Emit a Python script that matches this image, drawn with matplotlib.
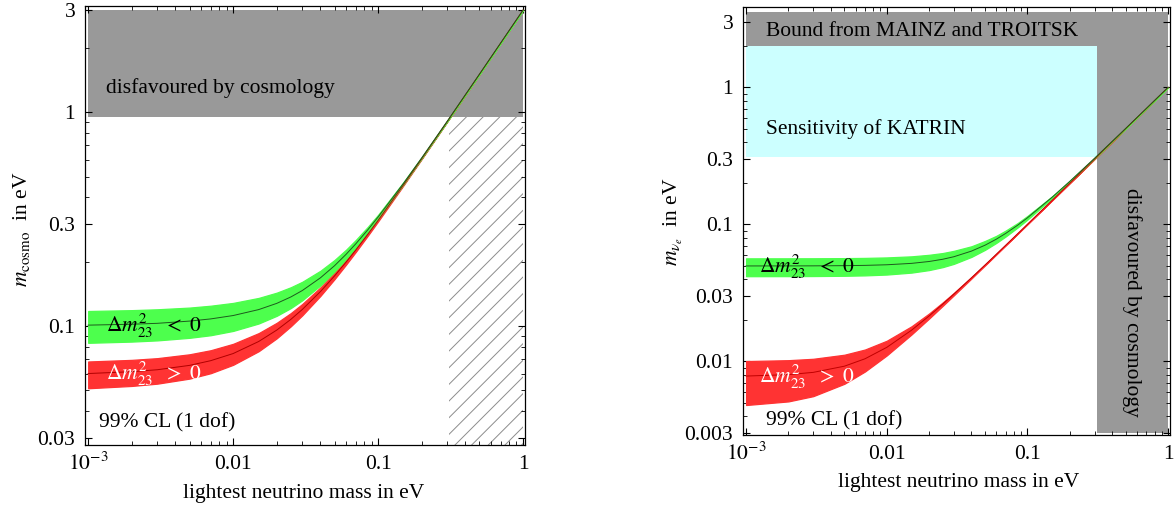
import numpy as np
import matplotlib
matplotlib.use("Agg")
import matplotlib.pyplot as plt
from matplotlib.ticker import FixedLocator, FixedFormatter, LogLocator, NullFormatter

plt.rcParams['font.family'] = ['Liberation Serif', 'DejaVu Serif']
plt.rcParams['mathtext.fontset'] = 'stix'
plt.rcParams['font.size'] = 15.5
plt.rcParams['hatch.linewidth'] = 0.7

# lightest neutrino mass in eV (x values shared by all bands)
m_light = [0.001, 0.002, 0.003, 0.005, 0.007, 0.01, 0.015, 0.02, 0.025, 0.03, 0.04,
           0.05, 0.06, 0.07, 0.085, 0.1, 0.15, 0.2, 0.3, 0.5, 0.7, 1.0]

# left panel: m_cosmo, inverted hierarchy (green)
cosmo_inv_mid = [0.101, 0.102, 0.103, 0.1055, 0.108, 0.112, 0.1194, 0.1277, 0.1368, 0.1466, 0.1681,
                 0.1914, 0.2162, 0.242, 0.2822, 0.3236, 0.466, 0.612, 0.908, 1.505, 2.104, 3.0025]
cosmo_inv_hi = [0.1176, 0.1187, 0.1198, 0.122, 0.1245, 0.1283, 0.1354, 0.1433, 0.1519, 0.1611, 0.1814,
                0.2036, 0.2273, 0.2523, 0.2912, 0.3314, 0.472, 0.6166, 0.911, 1.507, 2.105, 3.003]
cosmo_inv_lo = [0.0835, 0.0846, 0.0857, 0.0881, 0.0906, 0.0949, 0.1028, 0.1117, 0.1214, 0.132, 0.1549,
                0.1796, 0.2056, 0.2324, 0.2739, 0.3164, 0.461, 0.6084, 0.9056, 1.503, 2.102, 3.002]
# left panel: m_cosmo, normal hierarchy (red)
cosmo_nor_mid = [0.06, 0.0612, 0.0625, 0.0655, 0.0689, 0.0744, 0.0847, 0.0958, 0.1075, 0.1196, 0.145,
                 0.1715, 0.1988, 0.2266, 0.2691, 0.3122, 0.4584, 0.6064, 0.9043, 1.5027, 2.1019, 3.0013]
cosmo_nor_hi = [0.0683, 0.0695, 0.0708, 0.0738, 0.0771, 0.0826, 0.0927, 0.1036, 0.115, 0.1269, 0.1517,
                0.1776, 0.2043, 0.2317, 0.2736, 0.3161, 0.4613, 0.6085, 0.9057, 1.5035, 2.1024, 3.0017]
cosmo_nor_lo = [0.0512, 0.0525, 0.0538, 0.0568, 0.0602, 0.0659, 0.0763, 0.0877, 0.0998, 0.1123, 0.1384,
                0.1656, 0.1935, 0.2218, 0.2649, 0.3086, 0.4559, 0.6044, 0.9029, 1.5017, 2.1012, 3.0008]

# right panel: m_nu_e, inverted hierarchy (green)
mnue_inv_mid = [0.04971, 0.04974, 0.04979, 0.04995, 0.05019, 0.0507, 0.05191, 0.05357, 0.05563, 0.05805,
                0.0638, 0.0705, 0.07791, 0.08585, 0.09846, 0.11167, 0.158, 0.2061, 0.3041, 0.50247,
                0.70176, 1.00123]
mnue_inv_hi = [0.05649, 0.05652, 0.05656, 0.0567, 0.05691, 0.05737, 0.05843, 0.05996, 0.06177, 0.0641,
               0.06921, 0.0757, 0.0824, 0.09008, 0.10205, 0.11527, 0.1604, 0.2078, 0.3053, 0.5032,
               0.7023, 1.0016]
mnue_inv_lo = [0.04184, 0.04188, 0.04194, 0.04213, 0.04241, 0.04301, 0.04444, 0.04637, 0.04873, 0.05148,
               0.05788, 0.06519, 0.07314, 0.08155, 0.09474, 0.1084, 0.1557, 0.2043, 0.3029, 0.5017,
               0.7012, 1.0009]
# right panel: m_nu_e, normal hierarchy (red)
mnue_nor_mid = [0.00781, 0.008, 0.00831, 0.00922, 0.01044, 0.01265, 0.01688, 0.02145, 0.02617, 0.03098,
                0.04074, 0.0506, 0.0605, 0.07043, 0.08535, 0.1003, 0.1502, 0.20015, 0.3001, 0.50006,
                0.70004, 1.0]
mnue_nor_hi = [0.01005, 0.0102, 0.01044, 0.01118, 0.0122, 0.01414, 0.01803, 0.02236, 0.02693, 0.03162,
               0.04123, 0.05099, 0.06083, 0.07071, 0.08559, 0.1005, 0.15033, 0.20025, 0.30017, 0.5001,
               0.70007, 1.0]
mnue_nor_lo = [0.0048, 0.0051, 0.00557, 0.00686, 0.00843, 0.01105, 0.01572, 0.02054, 0.02544, 0.03036,
               0.04027, 0.05022, 0.06018, 0.07016, 0.08513, 0.10011, 0.15007, 0.20006, 0.30004, 0.50002,
               0.70002, 1.0]

# excluded / sensitivity regions (eV)
cosmo_bound = 0.95
cosmo_light_bound = 0.31
mainz_bound = 2.0
katrin_sens = 0.31

x_ticks = [0.001, 0.01, 0.1, 1]
x_ticklabels = [r"$10^{-3}$", "0.01", "0.1", "1"]
y1_ticks = [0.03, 0.1, 0.3, 1, 3]
y1_ticklabels = ["0.03", "0.1", "0.3", "1", "3"]
y2_ticks = [0.003, 0.01, 0.03, 0.1, 0.3, 1, 3]
y2_ticklabels = ["0.003", "0.01", "0.03", "0.1", "0.3", "1", "3"]

GREEN = '#4dff4d'
RED = '#ff3333'
GRAY = '#999999'
CYAN = '#ccffff'


def style(ax, yticks, ylabels, ylim):
    ax.set_xscale('log')
    ax.set_yscale('log')
    ax.set_xlim(0.00095, 1.03)
    ax.set_ylim(*ylim)
    ax.xaxis.set_major_locator(FixedLocator(x_ticks))
    ax.xaxis.set_major_formatter(FixedFormatter(x_ticklabels))
    ax.yaxis.set_major_locator(FixedLocator(yticks))
    ax.yaxis.set_major_formatter(FixedFormatter(ylabels))
    for a in (ax.xaxis, ax.yaxis):
        a.set_minor_locator(LogLocator(base=10, subs=np.arange(2, 10), numticks=20))
        a.set_minor_formatter(NullFormatter())
    ax.tick_params(which='both', direction='in', top=True, right=True)
    ax.tick_params(which='major', length=5, width=0.8)
    ax.tick_params(which='minor', length=3, width=0.6)
    ax.tick_params(axis='y', pad=7)
    ax.tick_params(axis='x', pad=17.5)
    for lbl in ax.get_xticklabels():
        lbl.set_va('baseline')
    for s in ax.spines.values():
        s.set_linewidth(0.9)


def band(ax, lo, mid, hi, fill, line):
    ax.fill_between(m_light, lo, hi, color=fill, lw=0.9, zorder=3)
    ax.plot(m_light, mid, color=line, lw=0.7, zorder=4)


fig = plt.figure(figsize=(11.75, 5.08), dpi=100)
ax1 = fig.add_axes([0.0723, 0.124, 0.3745, 0.864])
ax2 = fig.add_axes([0.6323, 0.1437, 0.3634, 0.8425])

# ---- left panel ----
style(ax1, y1_ticks, y1_ticklabels, (0.0278, 3.13))
ax1.fill_between([0.001, 1.0], cosmo_bound, 3.0, color=GRAY, lw=0, zorder=1)
ax1.fill_between([cosmo_light_bound, 1.0], 0.0278, cosmo_bound, facecolor='none',
                 edgecolor='#8c8c8c', hatch='//', lw=0, zorder=1)
band(ax1, cosmo_nor_lo, cosmo_nor_mid, cosmo_nor_hi, RED, '#b00000')
band(ax1, cosmo_inv_lo, cosmo_inv_mid, cosmo_inv_hi, GREEN, '#1d5a1d')
ax1.text(0.00133, 1.3, "disfavoured by cosmology", va='center', ha='left', zorder=5)
ax1.text(0.00133, 0.1, r"$\Delta m^2_{23}\ \ <\ 0$", va='center', ha='left', zorder=5)
ax1.text(0.00133, 0.06, r"$\Delta m^2_{23}\ \ >\ 0$", va='center', ha='left',
         color='white', zorder=5)
ax1.text(0.00119, 0.0353, "99% CL (1 dof)", va='center', ha='left', zorder=5)
ax1.set_xlabel("lightest neutrino mass in eV")
ax1.set_ylabel(r"$m_{\rm cosmo}$  in eV")
ax1.xaxis.set_label_coords(0.498, -0.088)
ax1.yaxis.set_label_coords(-0.12, 0.492)

# ---- right panel ----
style(ax2, y2_ticks, y2_ticklabels, (0.0029, 3.86))
ax2.fill_between([0.001, 1.0], mainz_bound, 3.55, color=GRAY, lw=0, zorder=1)
ax2.fill_between([cosmo_light_bound, 1.0], 0.003, mainz_bound, color=GRAY, lw=0, zorder=1)
ax2.fill_between([0.001, cosmo_light_bound], katrin_sens, mainz_bound, color=CYAN, lw=0, zorder=1)
band(ax2, mnue_nor_lo, mnue_nor_mid, mnue_nor_hi, RED, '#c00000')
band(ax2, mnue_inv_lo, mnue_inv_mid, mnue_inv_hi, GREEN, '#1d5a1d')
ax2.text(0.00139, 2.54, "Bound from MAINZ and TROITSK", va='center', ha='left', zorder=5)
ax2.text(0.00139, 0.5, "Sensitivity of KATRIN", va='center', ha='left', zorder=5)
ax2.text(0.553, 0.0271, "disfavoured by cosmology", va='center', ha='center',
         rotation=-90, zorder=5)
ax2.text(0.00124, 0.049, r"$\Delta m^2_{23}\ \ <\ 0$", va='center', ha='left', zorder=5)
ax2.text(0.00124, 0.0077, r"$\Delta m^2_{23}\ \ >\ 0$", va='center', ha='left',
         color='white', zorder=5)
ax2.text(0.00139, 0.00367, "99% CL (1 dof)", va='center', ha='left', zorder=5)
ax2.set_xlabel("lightest neutrino mass in eV")
ax2.set_ylabel(r"$m_{\nu_e}$  in eV")
ax2.xaxis.set_label_coords(0.506, -0.088)
ax2.yaxis.set_label_coords(-0.136, 0.498)

fig.savefig("out.png", dpi=100)
